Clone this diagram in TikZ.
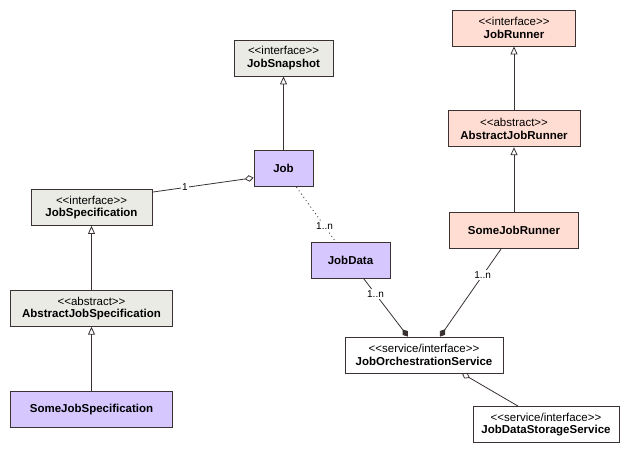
\documentclass[tikz,border=0pt]{standalone}
\usepackage{fontspec}
\setmainfont{Liberation Sans}[Ligatures=TeXOff]
\usepackage{tikz}
\usetikzlibrary{positioning,arrows.meta}
\definecolor{boxgray}{RGB}{235,235,230}
\definecolor{boxlilac}{RGB}{214,199,255}
\definecolor{boxsalmon}{RGB}{255,221,210}
\definecolor{edgegray}{RGB}{58,50,50}
\tikzset{
  cls/.style   = {draw=edgegray, line width=0.8pt, align=center, inner sep=0pt, minimum height=36pt,
                  font=\fontsize{11.5}{12.5}\selectfont\bfseries},
  gbox/.style  = {cls, fill=boxgray},
  pbox/.style  = {cls, fill=boxlilac},
  rbox/.style  = {cls, fill=boxsalmon},
  wbox/.style  = {cls, fill=white},
  link/.style  = {line width=0.8pt, draw=edgegray},
  gen/.style   = {link, -{Triangle[open, length=8pt, width=7pt]}},
  agg/.style   = {link, -{Diamond[open, length=9pt, width=6.5pt]}},
  comp/.style  = {link, -{Diamond[length=9pt, width=6.5pt]}},
  mult/.style  = {fill=white, inner sep=1.5pt, font=\fontsize{10}{11}\selectfont},
}
\newcommand{\stereo}[1]{{\mdseries\fontsize{11.5}{12.5}\selectfont<<#1>>}\\}

\begin{document}
\begin{tikzpicture}[x=1pt, y=-1pt]
  \useasboundingbox (0,0) rectangle (640,454);
  \node[gbox, minimum width=99pt] (snap) at (283.5,58) {\stereo{interface}JobSnapshot};
  \node[pbox, minimum width=59pt, below=74pt of snap] (job) {Job};
  \node[gbox, minimum width=121pt] (spec) at (91.5,207.5) {\stereo{interface}JobSpecification};
  \node[gbox, minimum width=162pt, below=64pt of spec] (aspec) {\stereo{abstract}AbstractJobSpecification};
  \node[pbox, minimum width=162pt, below=64pt of aspec] (sspec) {SomeJobSpecification};
  \node[pbox, minimum width=79pt] (data) at (350.5,260) {JobData};
  \node[rbox, minimum width=123pt] (runner) at (514,28) {\stereo{interface}JobRunner};
  \node[rbox, minimum width=132pt, below=64pt of runner] (arunner) {\stereo{abstract}AbstractJobRunner};
  \node[rbox, minimum width=129pt, below=65pt of arunner] (srunner) {SomeJobRunner};
  \node[wbox, minimum width=158pt] (jos) at (424,355) {\stereo{service/interface}JobOrchestrationService};
  \node[wbox, minimum width=146pt] (jdss) at (546,424.5) {\stereo{service/interface}JobDataStorageService};
  \draw[gen] (job) -- (snap);
  \draw[gen] (aspec) -- (spec);
  \draw[gen] (sspec) -- (aspec);
  \draw[gen] (arunner) -- (runner);
  \draw[gen] (srunner) -- (arunner);
  \draw[agg] ([yshift=-3pt]spec.north east) -- node[mult, pos=.32] {1} ([yshift=-9pt]job.west);
  \draw[link, dash pattern=on 1pt off 3pt] ([xshift=13pt]job.south) -- node[mult, pos=.72] {1..n} ([xshift=-15pt]data.north);
  \draw[comp] ([xshift=13pt]data.south) -- node[mult, pos=.27] {1..n} ([xshift=-16pt]jos.north);
  \draw[comp] ([xshift=-13pt]srunner.south) -- node[mult, pos=.3] {1..n} ([xshift=16pt]jos.north);
  \draw[agg] ([xshift=-28pt]jdss.north) -- ([xshift=38pt]jos.south);
\end{tikzpicture}
\end{document}
